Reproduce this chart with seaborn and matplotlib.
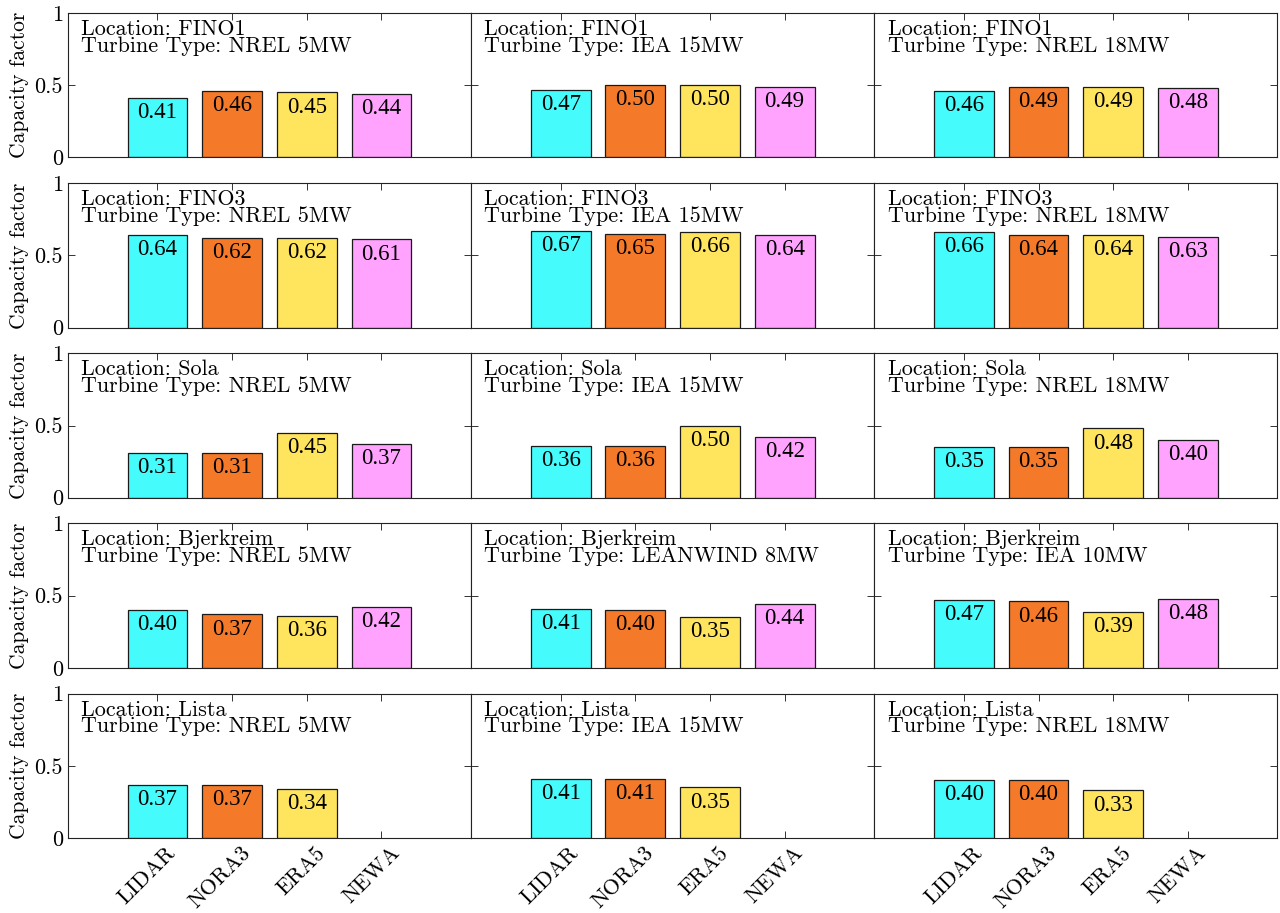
import matplotlib
matplotlib.use('Agg')
import matplotlib.pyplot as plt
import matplotlib.transforms as mtransforms
import seaborn as sns
import pandas as pd
import numpy as np

sns.set_theme(style='white')
plt.rcParams['font.family'] = ['cmr10', 'DejaVu Serif']
plt.rcParams['axes.formatter.use_mathtext'] = True
plt.rcParams['text.color'] = 'black'
plt.rcParams['axes.labelcolor'] = 'black'
plt.rcParams['xtick.color'] = 'black'
plt.rcParams['ytick.color'] = 'black'

sources = ['LIDAR', 'NORA3', 'ERA5', 'NEWA']
colors = ['#45FBFB', '#F47A2A', '#FFE45E', '#FFA3FF']

locations = ['FINO1', 'FINO3', 'Sola', 'Bjerkreim', 'Lista']
turbines = [
    ['NREL 5MW', 'IEA 15MW', 'NREL 18MW'],
    ['NREL 5MW', 'IEA 15MW', 'NREL 18MW'],
    ['NREL 5MW', 'IEA 15MW', 'NREL 18MW'],
    ['NREL 5MW', 'LEANWIND 8MW', 'IEA 10MW'],
    ['NREL 5MW', 'IEA 15MW', 'NREL 18MW'],
]

# capacity factors per location, per turbine, per source (LIDAR, NORA3, ERA5, NEWA)
cf_fino1 = [[0.41, 0.46, 0.45, 0.44], [0.47, 0.50, 0.50, 0.49], [0.46, 0.49, 0.49, 0.48]]
cf_fino3 = [[0.64, 0.62, 0.62, 0.61], [0.67, 0.65, 0.66, 0.64], [0.66, 0.64, 0.64, 0.63]]
cf_sola = [[0.31, 0.31, 0.45, 0.37], [0.36, 0.36, 0.50, 0.42], [0.35, 0.35, 0.48, 0.40]]
cf_bjerkreim = [[0.40, 0.37, 0.36, 0.42], [0.41, 0.40, 0.35, 0.44], [0.47, 0.46, 0.39, 0.48]]
cf_lista = [[0.37, 0.37, 0.34, np.nan], [0.41, 0.41, 0.35, np.nan], [0.40, 0.40, 0.33, np.nan]]
cf_all = [cf_fino1, cf_fino3, cf_sola, cf_bjerkreim, cf_lista]

fig, axes = plt.subplots(5, 3, figsize=(12.8, 9.13), dpi=100)
fig.subplots_adjust(left=0.053, right=0.998, top=0.9858, bottom=0.0821,
                    wspace=0, hspace=0.178)

for i, loc in enumerate(locations):
    for j in range(3):
        ax = axes[i, j]
        vals = cf_all[i][j]
        df = pd.DataFrame({'source': sources, 'cf': vals})
        sns.barplot(data=df, x='source', y='cf', hue='source', order=sources,
                    hue_order=sources, palette=colors, legend=False,
                    saturation=1, edgecolor='#1a1a1a', linewidth=0.9, width=0.8,
                    errorbar=None, ax=ax)
        for k, v in enumerate(vals):
            if not np.isnan(v):
                ax.annotate(f'{v:.2f}', xy=(k, v), xytext=(0, -3),
                            textcoords='offset points', ha='center', va='top',
                            fontsize=16.5, family='Liberation Serif')
        ax.text(0.033, 0.955, f'Location: {loc}\nTurbine Type: {turbines[i][j]}',
                transform=ax.transAxes, ha='left', va='top', fontsize=15.9,
                linespacing=0.82)
        ax.set_xlim(-1.2, 4.2)
        ax.set_ylim(0, 1)
        ax.set_yticks([0, 0.5, 1])
        ax.set_xticks(range(4))
        ax.tick_params(direction='in', length=5, width=0.7, top=True, right=True,
                       bottom=True, left=True, color='#333333', labelsize=16)
        for s in ax.spines.values():
            s.set_linewidth(0.8)
            s.set_color('#222222')
        ax.set_xlabel('')
        if j == 0:
            ax.set_yticklabels(['0', '0.5', '1'])
            ax.set_ylabel('Capacity factor', fontsize=15.5)
        else:
            ax.set_yticklabels([])
            ax.set_ylabel('')
        if i == 4:
            ax.set_xticklabels(sources, rotation=45, ha='right',
                               rotation_mode='anchor', fontsize=16)
            shift = mtransforms.ScaledTranslation(0.08, 0, fig.dpi_scale_trans)
            for lab in ax.get_xticklabels():
                lab.set_transform(lab.get_transform() + shift)
        else:
            ax.set_xticklabels([])

fig.savefig('out.png', dpi=100)
